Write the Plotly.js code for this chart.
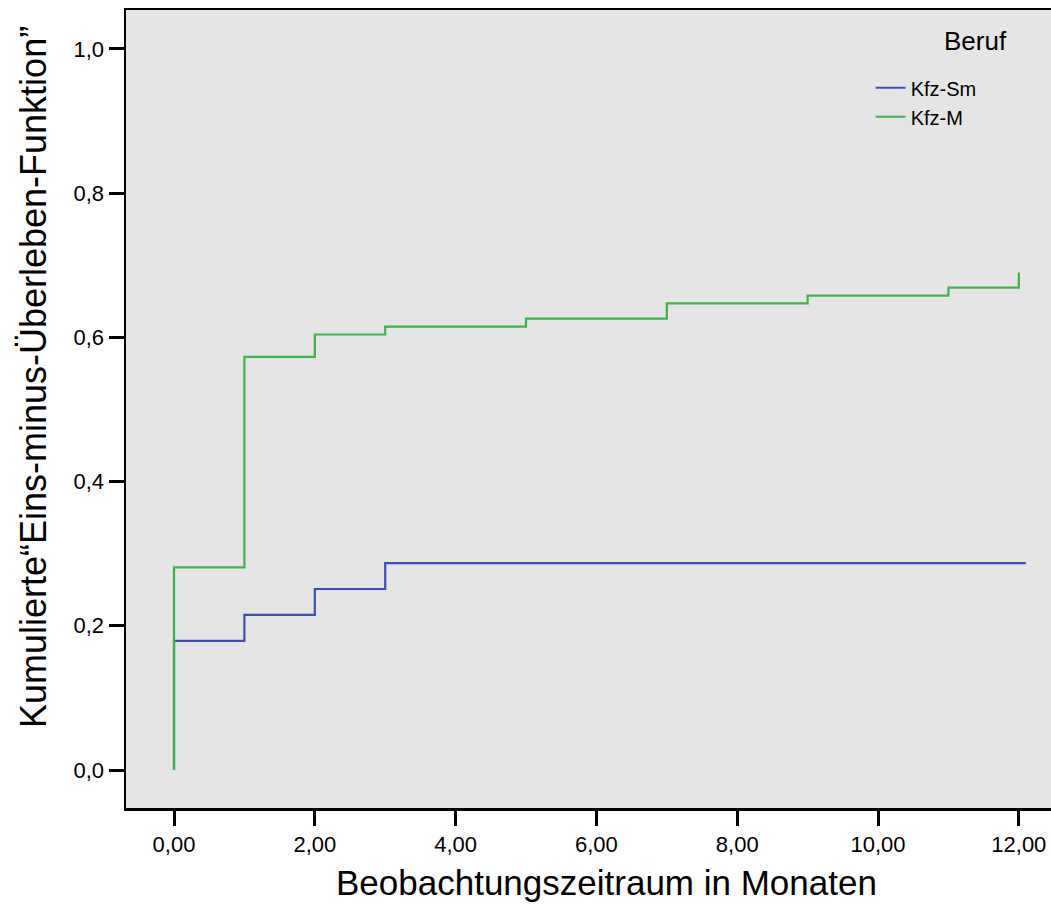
<!DOCTYPE html>
<html>
<head>
<meta charset="utf-8">
<script src="https://cdn.plot.ly/plotly-3.0.1.min.js"></script>
<style>html,body{margin:0;padding:0;background:#fff;}#chart{width:1051px;height:906px;}</style>
</head>
<body>
<div id="chart"></div>
<script>
// Data (cumulative 1 - survival, step functions)
const timeSm = [0, 0, 1, 2, 3, 12.1];
const valSm  = [0, 0.179, 0.215, 0.251, 0.287, 0.287];
const timeM  = [0, 0, 1, 2, 3, 5, 7, 9, 11, 12, 12];
const valM   = [0, 0.281, 0.573, 0.604, 0.615, 0.626, 0.647, 0.658, 0.669, 0.669, 0.690];
const seriesNames = ["Kfz-Sm", "Kfz-M"];
const xTickVals = [0, 2, 4, 6, 8, 10, 12];
const xTickText = ["0,00", "2,00", "4,00", "6,00", "8,00", "10,00", "12,00"];
const yTickVals = [0, 0.2, 0.4, 0.6, 0.8, 1.0];
const yTickText = ["0,0", "0,2", "0,4", "0,6", "0,8", "1,0"];
const xTitle = "Beobachtungszeitraum in Monaten";
const yTitle = "Kumulierte\u201CEins-minus-\u00DCberleben-Funktion\u201D";
const legendTitle = "Beruf";

const font = "Liberation Sans, Arial, sans-serif";

const traces = [
  {x: timeSm, y: valSm, name: seriesNames[0], mode: "lines",
   line: {shape: "hv", color: "#3a4fb6", width: 2.2}},
  {x: timeM, y: valM, name: seriesNames[1], mode: "lines",
   line: {shape: "hv", color: "#3cb44c", width: 2.2}}
];

const layout = {
  width: 1051, height: 906,
  margin: {l: 126, r: 0, t: 10, b: 98},
  paper_bgcolor: "#ffffff",
  plot_bgcolor: "#e5e5e5",
  font: {family: font, color: "#000"},
  showlegend: true,
  legend: {x: 0.805, y: 0.927, xanchor: "left", yanchor: "top",
           bgcolor: "rgba(0,0,0,0)", borderwidth: 0,
           font: {family: font, size: 20, color: "#000"}, traceorder: "normal"},
  xaxis: {
    range: [-0.682, 12.457], tickvals: xTickVals, ticktext: xTickText,
    ticks: "outside", ticklen: 15, tickwidth: 3, tickcolor: "#000",
    showline: true, linecolor: "#000", linewidth: 2.5, mirror: true,
    showgrid: false, zeroline: false,
    tickfont: {family: font, size: 22, color: "#000"}
  },
  yaxis: {
    range: [-0.0527, 1.054], tickvals: yTickVals, ticktext: yTickText,
    ticks: "outside", ticklen: 15, tickwidth: 3, tickcolor: "#000",
    showline: true, linecolor: "#000", linewidth: 2.5,
    showgrid: false, zeroline: false,
    tickfont: {family: font, size: 22, color: "#000"}
  },
  annotations: [
    {text: legendTitle, xref: "paper", yref: "paper", x: 0.918, y: 0.961,
     xanchor: "center", yanchor: "middle", showarrow: false,
     font: {family: font, size: 26, color: "#000"}},
    {text: yTitle, xref: "paper", yref: "paper", x: -0.1005, y: 0.540,
     xanchor: "center", yanchor: "middle", showarrow: false, textangle: -90,
     font: {family: font, size: 36, color: "#000"}},
    {text: xTitle, xref: "paper", yref: "paper", x: 0.519, y: -0.093,
     xanchor: "center", yanchor: "middle", showarrow: false,
     font: {family: font, size: 35, color: "#000"}}
  ]
};

Plotly.newPlot("chart", traces, layout, {displayModeBar: false, staticPlot: true});
</script>
</body>
</html>
